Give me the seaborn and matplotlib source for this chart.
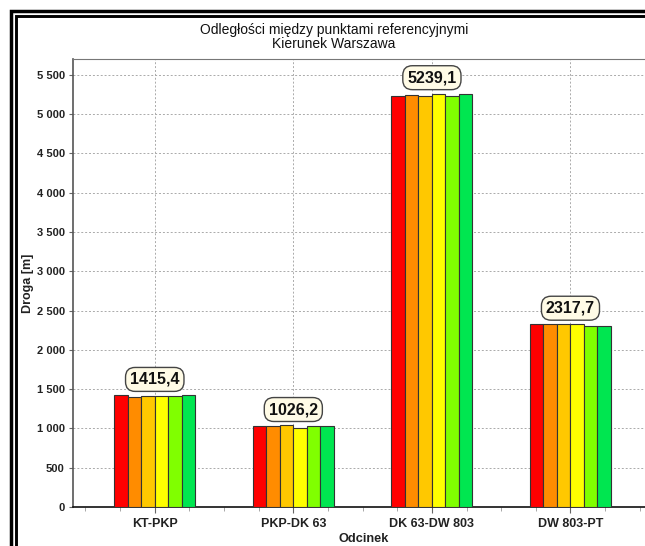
import matplotlib
matplotlib.use("Agg")
import matplotlib.pyplot as plt
import seaborn as sns
import pandas as pd
from matplotlib.patches import Rectangle
from matplotlib.ticker import FuncFormatter, MultipleLocator

segments = ["KT-PKP", "PKP-DK 63", "DK 63-DW 803", "DW 803-PT"]
series = ["S1", "S2", "S3", "S4", "S5", "S6"]
values = [
    [1420, 1398, 1418, 1418, 1418, 1420],
    [1035, 1035, 1037, 1000, 1025, 1025],
    [5228, 5240, 5224, 5255, 5228, 5259],
    [2326, 2326, 2326, 2326, 2301, 2301],
]
labels = ["1415,4", "1026,2", "5239,1", "2317,7"]
colors = ["#ff0000", "#ff8c00", "#ffc800", "#ffff00", "#80ff00", "#00e650"]

rows = []
for seg, vals in zip(segments, values):
    for s, v in zip(series, vals):
        rows.append({"Odcinek": seg, "series": s, "Droga": v})
df = pd.DataFrame(rows)

sns.set_theme(style="white")
plt.rcParams["font.family"] = ["Liberation Sans", "DejaVu Sans"]

W, H = 645, 546
fig = plt.figure(figsize=(W / 100, H / 100), dpi=100)
fig.patch.set_facecolor("white")

left, right, top, bottom = 73, 655, 59, 507
ax = fig.add_axes([left / W, 1 - bottom / H, (right - left) / W, (bottom - top) / H])

sns.barplot(data=df, x="Odcinek", y="Droga", hue="series", palette=colors,
            width=0.585, gap=0, edgecolor="#333333", linewidth=0.8,
            saturation=1, legend=False, ax=ax, zorder=3)

ax.set_xlim(-0.59, 3.61)
ax.set_ylim(0, 5700)
ax.yaxis.set_major_locator(MultipleLocator(500))
ax.yaxis.set_major_formatter(FuncFormatter(lambda v, p: f"{int(v):,}".replace(",", " ")))
ax.set_xticks(range(len(segments)))
ax.set_xticklabels(segments)
ax.set_xticks([i * 0.25 - 0.5 for i in range(17)], minor=True)

ax.grid(True, axis="both", which="major", linestyle=(0, (2, 2)), color="#aaaaaa", linewidth=0.7, zorder=0)
ax.set_axisbelow(True)

for lab in ax.get_xticklabels():
    lab.set_fontweight("bold")
    lab.set_fontsize(9)
    lab.set_color("#222222")
for lab in ax.get_yticklabels():
    lab.set_fontweight("bold")
    lab.set_fontsize(8)
    lab.set_color("#222222")

ax.tick_params(axis="x", which="major", length=4, width=0.8, color="#666666", direction="out", pad=4)
ax.tick_params(axis="x", which="minor", length=3, width=0.6, color="#999999", direction="out")
ax.tick_params(axis="y", which="major", length=3, width=0.8, color="#666666", direction="out", pad=3)
ax.tick_params(bottom=True, left=True, which="both")

ax.set_xlabel("Odcinek", fontsize=9.2, fontweight="bold", color="#222222", labelpad=2)
ax.set_ylabel("Droga [m]", fontsize=9, fontweight="bold", color="#222222", labelpad=2)

ax.spines["left"].set_color("#555555")
ax.spines["left"].set_linewidth(1.2)
ax.spines["bottom"].set_color("#111111")
ax.spines["bottom"].set_linewidth(1.2)
ax.spines["top"].set_color("#777777")
ax.spines["top"].set_linewidth(0.8)
ax.spines["right"].set_visible(False)

for i, (vals, lab) in enumerate(zip(values, labels)):
    ax.annotate(lab, xy=(i, max(vals)), xytext=(0, 11.5), textcoords="offset points",
                ha="center", va="center", fontsize=11.5, fontweight="bold", color="#111111",
                bbox=dict(boxstyle="round,pad=0.28,rounding_size=0.6", fc="#fffbe6",
                          ec="#444444", lw=1.0), zorder=5)

fig.text(334 / W, 1 - 30 / H, "Odległości między punktami referencyjnymi",
         ha="center", va="center", fontsize=10, color="#111111")
fig.text(334 / W, 1 - 44 / H, "Kierunek Warszawa",
         ha="center", va="center", fontsize=10, color="#111111")

def frame(x0, y0, lw):
    fig.add_artist(Rectangle((x0 / W, -0.1), 2.0, 1 - y0 / H + 0.1, transform=fig.transFigure,
                             fill=False, ec="black", lw=lw, clip_on=False))

frame(10.7, 11.2, 2.5)
frame(15.5, 16.2, 2.1)

fig.savefig("out.png", dpi=100, facecolor="white")
